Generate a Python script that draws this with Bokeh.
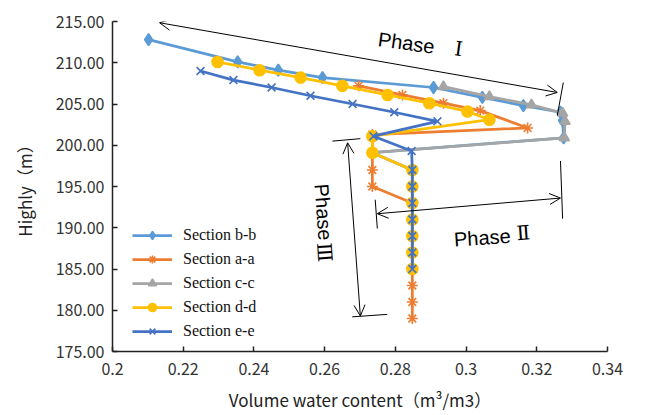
import math
from bokeh.plotting import figure
from bokeh.models import Arrow, OpenHead, FixedTicker, Legend, LegendItem, Range1d
from bokeh.core.properties import value
from bokeh.embed import file_html
from bokeh.resources import INLINE

# ---------------- data ----------------
x_ticks = [0.2, 0.22, 0.24, 0.26, 0.28, 0.3, 0.32, 0.34]
x_tick_labels = ["0.2", "0.22", "0.24", "0.26", "0.28", "0.3", "0.32", "0.34"]
y_ticks = [175, 180, 185, 190, 195, 200, 205, 210, 215]
y_tick_labels = ["175.00", "180.00", "185.00", "190.00", "195.00", "200.00", "205.00", "210.00", "215.00"]

x_title = "Volume water content（m³/m3）"
y_title = "Highly（m）"

series_names = ["Section b-b", "Section a-a", "Section c-c", "Section d-d", "Section e-e"]

bb_x = [0.2102, 0.2354, 0.2469, 0.2594, 0.2908, 0.3046, 0.3162, 0.3267, 0.3273, 0.3276,
        0.2735, 0.2848, 0.2848, 0.2848, 0.2848, 0.2848, 0.2848, 0.2848]
bb_y = [212.8, 210.1, 209.1, 208.2, 207.0, 205.8, 204.8, 204.0, 203.0, 200.9,
        199.1, 197, 195, 193, 191, 189, 187, 185]

aa_x = [0.2696, 0.2820, 0.2936, 0.3040, 0.3174, 0.2735, 0.2735, 0.2735, 0.2735,
        0.2848, 0.2848, 0.2848, 0.2848, 0.2848, 0.2848, 0.2848, 0.2848]
aa_y = [207.2, 206.1, 205.1, 204.2, 202.1, 201.3, 199.1, 197, 195,
        193, 191, 189, 187, 185, 183, 181, 179]

cc_x = [0.2936, 0.3066, 0.3185, 0.3273, 0.3280, 0.3278, 0.2735,
        0.2848, 0.2848, 0.2848, 0.2848, 0.2848, 0.2848, 0.2848]
cc_y = [207.1, 205.9, 204.9, 203.9, 202.9, 200.9, 199.1,
        197, 195, 193, 191, 189, 187, 185]

dd_x = [0.2297, 0.2416, 0.2532, 0.2650, 0.2778, 0.2896, 0.3004, 0.3066, 0.2735, 0.2735,
        0.2848, 0.2848, 0.2848, 0.2848, 0.2848, 0.2848, 0.2848]
dd_y = [210.1, 209.1, 208.2, 207.2, 206.1, 205.1, 204.1, 203.1, 201.1, 199.1,
        197, 195, 193, 191, 189, 187, 185]

ee_x = [0.2249, 0.2342, 0.2450, 0.2560, 0.2679, 0.2797, 0.2919, 0.2738, 0.2846,
        0.2848, 0.2848, 0.2848, 0.2848, 0.2848, 0.2848, 0.2848]
ee_y = [209.0, 207.9, 207.0, 206.0, 205.0, 204.0, 202.9, 201.1, 199.3,
        197, 195, 193, 191, 189, 187, 185]

# annotation geometry (data units)
phase1_arrow = (0.2133, 214.85, 0.3258, 206.4)
phase1_bar = (0.3275, 207.6, 0.3258, 203.6)
phase2_arrow = (0.2749, 191.7, 0.3267, 193.6)
phase2_bars = [(0.2743, 193.4, 0.2749, 189.9), (0.3267, 198.1, 0.3273, 191.1)]
phase3_arrow = (0.2665, 200.3, 0.2701, 179.3)
phase3_bars = [(0.2622, 200.5, 0.2701, 200.8), (0.2678, 179.2, 0.2777, 179.5)]

# ---------------- figure ----------------
p = figure(width=655, height=415, x_range=Range1d(0.2, 0.34), y_range=Range1d(175, 215),
           output_backend="svg", toolbar_location=None,
           min_border_left=112, min_border_right=48, min_border_top=21, min_border_bottom=64)
p.outline_line_color = None
p.xgrid.visible = False
p.ygrid.visible = False

colors = ["#5B9BD5", "#ED7D31", "#A5A5A5", "#FFC000", "#4472C4"]
markers = ["diamond", "asterisk", "triangle", "circle", "x"]
sizes = [12, 11, 10, 11, 11]
data = [(bb_x, bb_y), (aa_x, aa_y), (cc_x, cc_y), (dd_x, dd_y), (ee_x, ee_y)]

items = []
for name, (xs, ys), c, m, s in zip(series_names, data, colors, markers, sizes):
    ln = p.line(xs, ys, line_color=c, line_width=2.75)
    sc = p.scatter(xs, ys, marker=m, size=s, fill_color=c, line_color=c, line_width=1.6)
    items.append(LegendItem(label=name, renderers=[ln, sc]))

legend = Legend(items=items, location=(20, 10))
legend.background_fill_alpha = 0
legend.border_line_color = None
legend.label_text_font = "Liberation Serif"
legend.label_text_font_size = "16px"
legend.label_text_color = "#111111"
legend.glyph_width = 40
legend.glyph_height = 20
legend.label_height = 20
legend.spacing = 4
legend.padding = 0
legend.margin = 0
legend.label_standoff = 11
p.add_layout(legend)

# axes
for ax in (p.xaxis, p.yaxis):
    ax.major_tick_in = 5
    ax.major_tick_out = 0
    ax.minor_tick_line_color = None
    ax.axis_line_color = "#222222"
    ax.axis_line_width = 1.5
    ax.major_tick_line_color = "#222222"
    ax.major_tick_line_width = 1.5
    ax.major_label_text_font = "Noto Sans CJK SC"
    ax.major_label_text_font_size = "16px"
    ax.major_label_text_color = "#333333"
    ax.axis_label_text_font = "Noto Sans CJK SC"
    ax.axis_label_text_font_size = "17px"
    ax.axis_label_text_font_style = "normal"
    ax.axis_label_text_color = "#222222"

p.xaxis.ticker = FixedTicker(ticks=x_ticks)
p.xaxis.major_label_overrides = dict(zip(x_ticks, x_tick_labels))
p.yaxis.ticker = FixedTicker(ticks=y_ticks)
p.yaxis.major_label_overrides = dict(zip(y_ticks, y_tick_labels))
p.xaxis.axis_label = x_title
p.yaxis.axis_label = y_title
p.xaxis.major_label_standoff = 11
p.yaxis.major_label_standoff = 8
p.xaxis.axis_label_standoff = 9
p.yaxis.axis_label_standoff = 16

# annotations
def arrow(a):
    p.add_layout(Arrow(start=OpenHead(size=11, line_width=1, line_color="black"),
                       end=OpenHead(size=11, line_width=1, line_color="black"),
                       x_start=a[0], y_start=a[1], x_end=a[2], y_end=a[3],
                       line_width=1, line_color="black"))

arrow(phase1_arrow)
arrow(phase2_arrow)
arrow(phase3_arrow)
bars = [phase1_bar] + phase2_bars + phase3_bars
p.segment(x0=[b[0] for b in bars], y0=[b[1] for b in bars],
          x1=[b[2] for b in bars], y1=[b[3] for b in bars],
          line_color="black", line_width=1)

p.text(x=[0.2831], y=[212.4], text=["Phase"], angle=-0.14, text_font=value("Liberation Sans"),
       text_font_size="20px", text_align="center", text_baseline="middle", text_color="black")
p.text(x=[0.2979], y=[211.7], text=["Ⅰ"], angle=-0.14, text_font=value("DejaVu Serif"),
       text_font_size="20px", text_align="center", text_baseline="middle", text_color="black")
p.text(x=[0.3046], y=[188.8], text=["Phase"], angle=0.07, text_font=value("Liberation Sans"),
       text_font_size="20px", text_align="center", text_baseline="middle", text_color="black")
p.text(x=[0.3162], y=[189.4], text=["Ⅱ"], angle=0.07, text_font=value("DejaVu Serif"),
       text_font_size="20px", text_align="center", text_baseline="middle", text_color="black")
p.text(x=[0.2597], y=[191.9], text=["Phase"], angle=-math.pi / 2 + 0.07, text_font=value("Liberation Sans"),
       text_font_size="20px", text_align="center", text_baseline="middle", text_color="black")
p.text(x=[0.2600], y=[187.0], text=["Ⅲ"], angle=-math.pi / 2 + 0.07, text_font=value("DejaVu Serif"),
       text_font_size="20px", text_align="center", text_baseline="middle", text_color="black")

open("out.html", "w").write(file_html(p, INLINE))
